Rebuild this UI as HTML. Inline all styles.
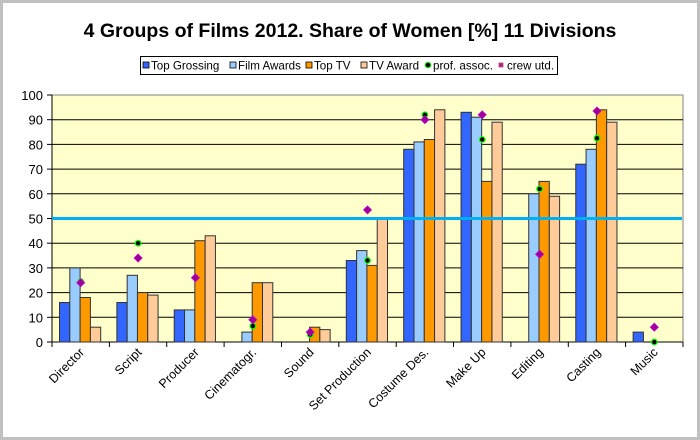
<!DOCTYPE html>
<html><head><meta charset="utf-8"><style>
html,body{margin:0;padding:0;background:#fff}
svg{display:block;font-family:"Liberation Sans",Arial,sans-serif}
</style></head><body>
<svg width="700" height="440" viewBox="0 0 700 440" xmlns="http://www.w3.org/2000/svg">
<rect x="1.5" y="1.5" width="697" height="437" fill="#fff" stroke="#c0c0c0" stroke-width="3"/>
<text x="350" y="37" text-anchor="middle" font-size="19.5" font-weight="bold">4 Groups of Films 2012. Share of Women [%] 11 Divisions</text>
<!-- legend -->
<rect x="140.5" y="56.5" width="417" height="18" fill="#fff" stroke="#000" stroke-width="1"/>
<g font-size="11.6" fill="#000">
<rect x="143" y="62" width="6" height="6" fill="#3366ff" stroke="#000" stroke-width="0.8"/><text x="151" y="69.5">Top Grossing</text>
<rect x="230" y="62" width="6" height="6" fill="#99ccff" stroke="#000" stroke-width="0.8"/><text x="238" y="69.5">Film Awards</text>
<rect x="306" y="62" width="6" height="6" fill="#ff9900" stroke="#000" stroke-width="0.8"/><text x="314" y="69.5">Top TV</text>
<rect x="361" y="62" width="6" height="6" fill="#ffcc99" stroke="#000" stroke-width="0.8"/><text x="369" y="69.5">TV Award</text>
<circle cx="428" cy="65" r="2.8" fill="#000" stroke="#00ff00" stroke-width="1"/><text x="433" y="69.5">prof. assoc.</text>
<rect x="499" y="63" width="4" height="4" fill="#993366" stroke="#cc3399" stroke-width="0.8"/><text x="507" y="69.5">crew utd.</text>
</g>
<!-- plot -->
<rect x="52" y="95" width="631" height="247" fill="#ffffcc" stroke="#808080" stroke-width="1"/>
<g stroke="#000" stroke-width="1">
<line x1="52" y1="119.7" x2="683" y2="119.7"/>
<line x1="52" y1="144.4" x2="683" y2="144.4"/>
<line x1="52" y1="169.1" x2="683" y2="169.1"/>
<line x1="52" y1="193.8" x2="683" y2="193.8"/>
<line x1="52" y1="243.2" x2="683" y2="243.2"/>
<line x1="52" y1="267.9" x2="683" y2="267.9"/>
<line x1="52" y1="292.6" x2="683" y2="292.6"/>
<line x1="52" y1="317.3" x2="683" y2="317.3"/>
</g>
<g font-size="13" text-anchor="end">
<text x="43" y="100">100</text><text x="43" y="124.7">90</text><text x="43" y="149.4">80</text><text x="43" y="174.1">70</text><text x="43" y="198.8">60</text><text x="43" y="223.5">50</text><text x="43" y="248.2">40</text><text x="43" y="272.9">30</text><text x="43" y="297.6">20</text><text x="43" y="322.3">10</text><text x="43" y="347">0</text>
</g>
<g stroke="#000" stroke-width="1">
<line x1="47" y1="95" x2="52" y2="95"/><line x1="47" y1="119.7" x2="52" y2="119.7"/><line x1="47" y1="144.4" x2="52" y2="144.4"/><line x1="47" y1="169.1" x2="52" y2="169.1"/><line x1="47" y1="193.8" x2="52" y2="193.8"/><line x1="47" y1="218.5" x2="52" y2="218.5"/><line x1="47" y1="243.2" x2="52" y2="243.2"/><line x1="47" y1="267.9" x2="52" y2="267.9"/><line x1="47" y1="292.6" x2="52" y2="292.6"/><line x1="47" y1="317.3" x2="52" y2="317.3"/><line x1="47" y1="342" x2="52" y2="342"/>
<line x1="52" y1="95" x2="52" y2="342"/>
<line x1="52" y1="342" x2="683" y2="342"/>
<line x1="52" y1="342" x2="52" y2="347"/><line x1="109.4" y1="342" x2="109.4" y2="347"/><line x1="166.7" y1="342" x2="166.7" y2="347"/><line x1="224.1" y1="342" x2="224.1" y2="347"/><line x1="281.5" y1="342" x2="281.5" y2="347"/><line x1="338.8" y1="342" x2="338.8" y2="347"/><line x1="396.2" y1="342" x2="396.2" y2="347"/><line x1="453.5" y1="342" x2="453.5" y2="347"/><line x1="510.9" y1="342" x2="510.9" y2="347"/><line x1="568.3" y1="342" x2="568.3" y2="347"/><line x1="625.6" y1="342" x2="625.6" y2="347"/><line x1="683" y1="342" x2="683" y2="347"/>
</g>
<!-- bars -->
<g stroke="#333" stroke-width="1">
<g transform="translate(52,0)">
<rect x="7.5" y="302.5" width="10.3" height="39.5" fill="#3366ff"/><rect x="17.8" y="267.9" width="10.3" height="74.1" fill="#99ccff"/><rect x="28.1" y="297.5" width="10.3" height="44.5" fill="#ff9900"/><rect x="38.4" y="327.2" width="10.3" height="14.8" fill="#ffcc99"/></g>
<g transform="translate(109.36,0)">
<rect x="7.5" y="302.5" width="10.3" height="39.5" fill="#3366ff"/><rect x="17.8" y="275.3" width="10.3" height="66.7" fill="#99ccff"/><rect x="28.1" y="292.6" width="10.3" height="49.4" fill="#ff9900"/><rect x="38.4" y="295.1" width="10.3" height="46.9" fill="#ffcc99"/></g>
<g transform="translate(166.73,0)">
<rect x="7.5" y="309.9" width="10.3" height="32.1" fill="#3366ff"/><rect x="17.8" y="309.9" width="10.3" height="32.1" fill="#99ccff"/><rect x="28.1" y="240.7" width="10.3" height="101.3" fill="#ff9900"/><rect x="38.4" y="235.8" width="10.3" height="106.2" fill="#ffcc99"/></g>
<g transform="translate(224.09,0)">
<rect x="17.8" y="332.1" width="10.3" height="9.9" fill="#99ccff"/><rect x="28.1" y="282.7" width="10.3" height="59.3" fill="#ff9900"/><rect x="38.4" y="282.7" width="10.3" height="59.3" fill="#ffcc99"/></g>
<g transform="translate(281.45,0)">
<rect x="28.1" y="327.2" width="10.3" height="14.8" fill="#ff9900"/><rect x="38.4" y="329.6" width="10.3" height="12.4" fill="#ffcc99"/></g>
<g transform="translate(338.82,0)">
<rect x="7.5" y="260.5" width="10.3" height="81.5" fill="#3366ff"/><rect x="17.8" y="250.6" width="10.3" height="91.4" fill="#99ccff"/><rect x="28.1" y="265.4" width="10.3" height="76.6" fill="#ff9900"/><rect x="38.4" y="218.5" width="10.3" height="123.5" fill="#ffcc99"/></g>
<g transform="translate(396.18,0)">
<rect x="7.5" y="149.3" width="10.3" height="192.7" fill="#3366ff"/><rect x="17.8" y="141.9" width="10.3" height="200.1" fill="#99ccff"/><rect x="28.1" y="139.5" width="10.3" height="202.5" fill="#ff9900"/><rect x="38.4" y="109.8" width="10.3" height="232.2" fill="#ffcc99"/></g>
<g transform="translate(453.55,0)">
<rect x="7.5" y="112.3" width="10.3" height="229.7" fill="#3366ff"/><rect x="17.8" y="117.2" width="10.3" height="224.8" fill="#99ccff"/><rect x="28.1" y="181.4" width="10.3" height="160.6" fill="#ff9900"/><rect x="38.4" y="122.2" width="10.3" height="219.8" fill="#ffcc99"/></g>
<g transform="translate(510.91,0)">
<rect x="17.8" y="193.8" width="10.3" height="148.2" fill="#99ccff"/><rect x="28.1" y="181.4" width="10.3" height="160.6" fill="#ff9900"/><rect x="38.4" y="196.3" width="10.3" height="145.7" fill="#ffcc99"/></g>
<g transform="translate(568.27,0)">
<rect x="7.5" y="164.2" width="10.3" height="177.8" fill="#3366ff"/><rect x="17.8" y="149.3" width="10.3" height="192.7" fill="#99ccff"/><rect x="28.1" y="109.8" width="10.3" height="232.2" fill="#ff9900"/><rect x="38.4" y="122.2" width="10.3" height="219.8" fill="#ffcc99"/></g>
<g transform="translate(625.64,0)">
<rect x="7.5" y="332.1" width="10.3" height="9.9" fill="#3366ff"/></g>
</g>
<!-- 50% line -->
<line x1="52" y1="218.5" x2="682" y2="218.5" stroke="#00b0f0" stroke-width="3"/>
<!-- prof assoc markers -->
<g fill="#000" stroke="#00ff00" stroke-width="1.2">
<circle cx="80.7" cy="281.5" r="2.8"/><circle cx="138.1" cy="243.2" r="2.8"/><circle cx="252.8" cy="326" r="2.8"/><circle cx="310.2" cy="334.6" r="2.8"/><circle cx="367.5" cy="260.5" r="2.8"/><circle cx="424.9" cy="114.8" r="2.8"/><circle cx="482.2" cy="139.5" r="2.8"/><circle cx="539.6" cy="188.9" r="2.8"/><circle cx="597" cy="138.2" r="2.8"/><circle cx="654.3" cy="342" r="2.8"/>
</g>
<!-- crew utd markers -->
<g fill="#990099" stroke="#cc00cc" stroke-width="0.8">
<path d="M80.7 278.7l4 4-4 4-4-4z"/><path d="M138.1 254l4 4-4 4-4-4z"/><path d="M195.4 273.8l4 4-4 4-4-4z"/><path d="M252.8 315.8l4 4-4 4-4-4z"/><path d="M310.2 328.1l4 4-4 4-4-4z"/><path d="M367.5 205.9l4 4-4 4-4-4z"/><path d="M424.9 115.7l4 4-4 4-4-4z"/><path d="M482.2 110.8l4 4-4 4-4-4z"/><path d="M539.6 250.3l4 4-4 4-4-4z"/><path d="M597 107l4 4-4 4-4-4z"/><path d="M654.3 323.2l4 4-4 4-4-4z"/>
</g>
<!-- x labels -->
<g font-size="12.5" text-anchor="end">
<text transform="translate(85,353) rotate(-45)">Director</text>
<text transform="translate(142.4,353) rotate(-45)">Script</text>
<text transform="translate(199.7,353) rotate(-45)">Producer</text>
<text transform="translate(257.1,353) rotate(-45)">Cinematogr.</text>
<text transform="translate(314.5,353) rotate(-45)">Sound</text>
<text transform="translate(371.8,353) rotate(-45)">Set Production</text>
<text transform="translate(429.2,353) rotate(-45)">Costume Des.</text>
<text transform="translate(486.5,353) rotate(-45)">Make Up</text>
<text transform="translate(543.9,353) rotate(-45)">Editing</text>
<text transform="translate(601.3,353) rotate(-45)">Casting</text>
<text transform="translate(658.6,353) rotate(-45)">Music</text>
</g>
</svg>
</body></html>
